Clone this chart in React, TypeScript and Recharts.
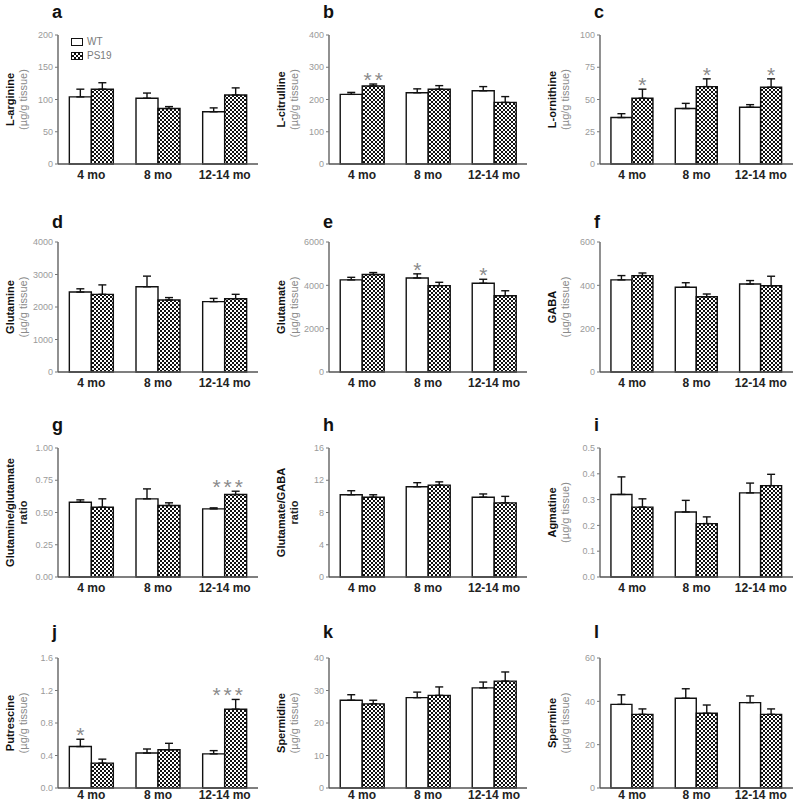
import React from 'react';
import { BarChart, Bar, XAxis, YAxis, ErrorBar, LabelList } from 'recharts';

const ages = ['4 mo', '8 mo', '12-14 mo'];
const UNIT = '(µg/g tissue)';
const none = ['', '', ''];

// a  L-arginine
const argWT = [104, 102, 81];
const argWTErr = [12, 8, 6];
const argPS = [116, 86, 107];
const argPSErr = [10, 3, 11];

// b  L-citrulline
const citWT = [216, 221, 227];
const citWTErr = [6, 12, 13];
const citPS = [242, 232, 191];
const citPSErr = [6, 11, 18];
const citPSSig = ['**', '', ''];

// c  L-ornithine
const ornWT = [36, 43, 44];
const ornWTErr = [3, 4, 2];
const ornPS = [51, 60, 59.5];
const ornPSErr = [7, 6, 6.5];
const ornPSSig = ['*', '*', '*'];

// d  Glutamine
const glnWT = [2460, 2625, 2165];
const glnWTErr = [100, 325, 100];
const glnPS = [2390, 2215, 2255];
const glnPSErr = [290, 75, 135];

// e  Glutamate
const gluWT = [4250, 4340, 4095];
const gluWTErr = [120, 190, 185];
const gluPS = [4500, 3985, 3520];
const gluPSErr = [90, 155, 230];
const gluWTSig = ['', '*', '*'];

// f  GABA
const gabaWT = [425, 391, 406];
const gabaWTErr = [20, 21, 16];
const gabaPS = [445, 347, 398];
const gabaPSErr = [12, 13, 44];

// g  Glutamine/glutamate ratio
const qeWT = [0.58, 0.606, 0.528];
const qeWTErr = [0.018, 0.077, 0.008];
const qePS = [0.541, 0.554, 0.639];
const qePSErr = [0.065, 0.021, 0.026];
const qePSSig = ['', '', '***'];

// h  Glutamate/GABA ratio
const egWT = [10.2, 11.2, 9.9];
const egWTErr = [0.5, 0.5, 0.4];
const egPS = [9.9, 11.4, 9.2];
const egPSErr = [0.3, 0.4, 0.8];

// i  Agmatine
const agmWT = [0.32, 0.252, 0.326];
const agmWTErr = [0.068, 0.045, 0.038];
const agmPS = [0.271, 0.207, 0.354];
const agmPSErr = [0.032, 0.026, 0.044];

// j  Putrescine
const putWT = [0.51, 0.43, 0.42];
const putWTErr = [0.09, 0.05, 0.04];
const putPS = [0.306, 0.47, 0.97];
const putPSErr = [0.049, 0.08, 0.12];
const putWTSig = ['*', '', ''];
const putPSSig = ['', '', '***'];

// k  Spermidine
const spdWT = [27.0, 27.8, 30.8];
const spdWTErr = [1.7, 1.7, 1.8];
const spdPS = [25.9, 28.5, 32.9];
const spdPSErr = [1.1, 2.6, 2.8];

// l  Spermine
const spmWT = [38.6, 41.4, 39.4];
const spmWTErr = [4.4, 4.4, 3.1];
const spmPS = [34, 34.5, 34];
const spmPSErr = [2.5, 3.8, 2.5];

const panels = [
  { key: 'a', name: 'L-arginine', unit: UNIT, ticks: [0, 50, 100, 150, 200], dec: 0, wt: argWT, wtErr: argWTErr, ps: argPS, psErr: argPSErr, wtSig: none, psSig: none },
  { key: 'b', name: 'L-citrulline', unit: UNIT, ticks: [0, 100, 200, 300, 400], dec: 0, wt: citWT, wtErr: citWTErr, ps: citPS, psErr: citPSErr, wtSig: none, psSig: citPSSig },
  { key: 'c', name: 'L-ornithine', unit: UNIT, ticks: [0, 25, 50, 75, 100], dec: 0, wt: ornWT, wtErr: ornWTErr, ps: ornPS, psErr: ornPSErr, wtSig: none, psSig: ornPSSig },
  { key: 'd', name: 'Glutamine', unit: UNIT, ticks: [0, 1000, 2000, 3000, 4000], dec: 0, wt: glnWT, wtErr: glnWTErr, ps: glnPS, psErr: glnPSErr, wtSig: none, psSig: none },
  { key: 'e', name: 'Glutamate', unit: UNIT, ticks: [0, 2000, 4000, 6000], dec: 0, wt: gluWT, wtErr: gluWTErr, ps: gluPS, psErr: gluPSErr, wtSig: gluWTSig, psSig: none },
  { key: 'f', name: 'GABA', unit: UNIT, ticks: [0, 200, 400, 600], dec: 0, wt: gabaWT, wtErr: gabaWTErr, ps: gabaPS, psErr: gabaPSErr, wtSig: none, psSig: none },
  { key: 'g', name: 'Glutamine/glutamate', unit: 'ratio', ticks: [0, 0.25, 0.5, 0.75, 1], dec: 2, wt: qeWT, wtErr: qeWTErr, ps: qePS, psErr: qePSErr, wtSig: none, psSig: qePSSig },
  { key: 'h', name: 'Glutamate/GABA', unit: 'ratio', ticks: [0, 4, 8, 12, 16], dec: 0, wt: egWT, wtErr: egWTErr, ps: egPS, psErr: egPSErr, wtSig: none, psSig: none },
  { key: 'i', name: 'Agmatine', unit: UNIT, ticks: [0, 0.1, 0.2, 0.3, 0.4, 0.5], dec: 1, wt: agmWT, wtErr: agmWTErr, ps: agmPS, psErr: agmPSErr, wtSig: none, psSig: none },
  { key: 'j', name: 'Putrescine', unit: UNIT, ticks: [0, 0.4, 0.8, 1.2, 1.6], dec: 1, wt: putWT, wtErr: putWTErr, ps: putPS, psErr: putPSErr, wtSig: putWTSig, psSig: putPSSig },
  { key: 'k', name: 'Spermidine', unit: UNIT, ticks: [0, 10, 20, 30, 40], dec: 0, wt: spdWT, wtErr: spdWTErr, ps: spdPS, psErr: spdPSErr, wtSig: none, psSig: none },
  { key: 'l', name: 'Spermine', unit: UNIT, ticks: [0, 20, 40, 60], dec: 0, wt: spmWT, wtErr: spmWTErr, ps: spmPS, psErr: spmPSErr, wtSig: none, psSig: none },
];

// layout of the 4x3 grid
const colLeft = [0, 265, 535];
const colAxis = [58, 329, 600];
const colRight = [258, 527, 793];
const rowTop = [35, 242, 448, 658];
const rowBase = [164, 372, 577, 788];
const letterY = [12, 222, 425, 632];

const FONT = 'Arial, "Liberation Sans", Helvetica, sans-serif';

const sigLabel = (rows: any[], valKey: string, errKey: string) => (props: any) => {
  const { value, index } = props;
  if (!value) return null;
  const vb = props.viewBox || props;
  const row = rows[index];
  const v = row[valKey];
  const e = row[errKey][1];
  const top = vb.y - (vb.height / v) * e;
  // triple stars sit a bit left, over the pair
  const cx = vb.x + vb.width / 2 + (value.length > 2 ? -8 : 0) + (value.length > 1 ? 1.5 : 0);
  return (
    <text x={cx} y={top + 3} textAnchor="middle" fontSize={21} fill="#8a8a8a" fontFamily={FONT} letterSpacing={value.length > 1 ? 3 : 0}>
      {value}
    </text>
  );
};

const Panel = ({ p, idx }: { p: any; idx: number }) => {
  const c = idx % 3;
  const r = Math.floor(idx / 3);
  const top = rowTop[r] - 28;
  const left = colLeft[c];
  const width = colRight[c] + 4 - left;
  const height = rowBase[r] - top + 20;
  const rows = ages.map((age, i) => ({
    age,
    wt: p.wt[i],
    wtErr: [0, p.wtErr[i]],
    ps: p.ps[i],
    psErr: [0, p.psErr[i]],
    wtSig: p.wtSig[i],
    psSig: p.psSig[i],
  }));
  const patId = `chk-${p.key}`;
  const ratio = p.unit === 'ratio';
  const yLabel = (lp: any) => {
    const vb = lp.viewBox;
    const cy = vb.y + vb.height / 2;
    const ax = vb.x + vb.width;
    return (
      <g fontFamily={FONT} fontSize={11}>
        <text x={ax - 48} y={cy} transform={`rotate(-90 ${ax - 48} ${cy})`} textAnchor="middle" dominantBaseline="central" fontWeight="bold" fill="#111">
          {p.name}
        </text>
        <text x={ax - 35} y={cy} transform={`rotate(-90 ${ax - 35} ${cy})`} textAnchor="middle" dominantBaseline="central" fontWeight={ratio ? 'bold' : 'normal'} fill={ratio ? '#222' : '#8a8a8a'}>
          {p.unit}
        </text>
      </g>
    );
  };
  return (
    <div style={{ position: 'absolute', left, top }}>
      <BarChart width={width} height={height} data={rows} margin={{ top: 28, right: 4, left: 0, bottom: 0 }} barCategoryGap="17%" barGap={0}>
        <defs>
          <pattern id={patId} width={4} height={4} patternUnits="userSpaceOnUse">
            <rect width={4} height={4} fill="#fff" />
            <rect width={2} height={2} fill="#111" />
            <rect x={2} y={2} width={2} height={2} fill="#111" />
          </pattern>
        </defs>
        <XAxis dataKey="age" height={20} tickLine={false} tickSize={r === 3 ? 0 : 4} axisLine={{ stroke: '#555', strokeWidth: 1.3 }}
          tick={{ fontSize: 12, fontWeight: 'bold', fill: '#222', fontFamily: FONT }} interval={0} />
        <YAxis width={colAxis[c] - left} ticks={p.ticks} domain={[p.ticks[0], p.ticks[p.ticks.length - 1]]}
          tickFormatter={(v: number) => v.toFixed(p.dec)} tickSize={3} tickLine={{ stroke: '#777' }}
          axisLine={{ stroke: '#555', strokeWidth: 1.3 }} tick={{ fontSize: 9, fill: '#9a9a9a', fontFamily: FONT }}
          interval={0} label={yLabel} />
        <Bar dataKey="wt" fill="#fff" stroke="#111" strokeWidth={1.4} isAnimationActive={false}>
          <ErrorBar dataKey="wtErr" width={4} stroke="#111" strokeWidth={1.4} direction="y" />
          <LabelList dataKey="wtSig" content={sigLabel(rows, 'wt', 'wtErr')} />
        </Bar>
        <Bar dataKey="ps" fill={`url(#${patId})`} stroke="#111" strokeWidth={1.4} isAnimationActive={false}>
          <ErrorBar dataKey="psErr" width={4} stroke="#111" strokeWidth={1.4} direction="y" />
          <LabelList dataKey="psSig" content={sigLabel(rows, 'ps', 'psErr')} />
        </Bar>
      </BarChart>
    </div>
  );
};

const PanelLetter = ({ k, idx }: { k: string; idx: number }) => {
  const c = idx % 3;
  const r = Math.floor(idx / 3);
  return (
    <div style={{ position: 'absolute', left: colAxis[c] - 6, top: letterY[r] - 10, fontFamily: FONT, fontWeight: 'bold', fontSize: 18, color: '#111', lineHeight: '20px' }}>
      {k}
    </div>
  );
};

const LegendBox = () => (
  <div style={{ position: 'absolute', left: 71, top: 35, fontFamily: FONT, fontSize: 10, color: '#7a7a7a', lineHeight: '14px' }}>
    <div style={{ display: 'flex', alignItems: 'center' }}>
      <span style={{ display: 'inline-block', width: 10, height: 6, border: '1.3px solid #111', background: '#fff', marginRight: 4 }} />
      WT
    </div>
    <div style={{ display: 'flex', alignItems: 'center' }}>
      <span style={{ display: 'inline-block', width: 10, height: 6, border: '1.3px solid #111', marginRight: 4, background: 'repeating-conic-gradient(#111 0 25%, #fff 0 50%) 0 0 / 4px 4px' }} />
      PS19
    </div>
  </div>
);

export default function App() {
  return (
    <div style={{ position: 'absolute', left: 0, top: 0, width: 800, height: 802, background: '#fff', overflow: 'hidden' }}>
      {panels.map((p, i) => (
        <Panel key={p.key} p={p} idx={i} />
      ))}
      {panels.map((p, i) => (
        <PanelLetter key={`l-${p.key}`} k={p.key} idx={i} />
      ))}
      <LegendBox />
    </div>
  );
}
